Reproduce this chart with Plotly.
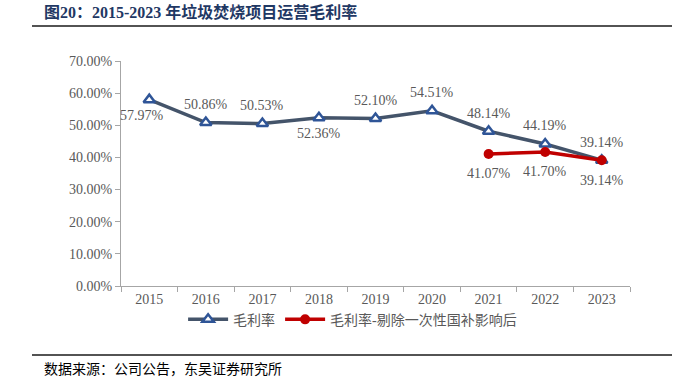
import plotly.graph_objects as go

years = ["2015", "2016", "2017", "2018", "2019", "2020", "2021", "2022", "2023"]
gross_margin = [57.97, 50.86, 50.53, 52.36, 52.10, 54.51, 48.14, 44.19, 39.14]
adj_years = ["2021", "2022", "2023"]
adj_margin = [41.07, 41.70, 39.14]
y_ticks = [0, 10, 20, 30, 40, 50, 60, 70]

series1_name = "毛利率"
series2_name = "毛利率-剔除一次性国补影响后"
title_text = "图20：2015-2023 年垃圾焚烧项目运营毛利率"
source_text = "数据来源：公司公告，东吴证券研究所"

# label placement: 1 above the point, -1 below
above1 = [-1, 1, 1, -1, 1, 1, 1, 1, 1]

serif = "Liberation Serif, Times New Roman, Noto Sans CJK SC"
gray = "#595959"

fig = go.Figure()
fig.add_trace(go.Scatter(
    x=years, y=[v / 100 for v in gross_margin], name=series1_name,
    mode="lines+markers",
    line=dict(color="#44546A", width=3.5),
    marker=dict(symbol="triangle-up", size=10, color="white",
                line=dict(color="#2F5597", width=2.5)),
    cliponaxis=False,
))
fig.add_trace(go.Scatter(
    x=adj_years, y=[v / 100 for v in adj_margin], name=series2_name,
    mode="lines+markers",
    line=dict(color="#C00000", width=3.5),
    marker=dict(symbol="circle", size=10, color="#C00000"),
    cliponaxis=False,
))

# on a category axis, annotation x is the category's serial index
for i, (yr, v) in enumerate(zip(years, gross_margin)):
    ys = 18 if above1[i] > 0 else -16
    xs = -7 if i == 0 else 0
    fig.add_annotation(x=years.index(yr), y=v / 100, text=f"{v:.2f}%", showarrow=False,
                       xshift=xs, yshift=ys, xanchor="center", yanchor="middle",
                       font=dict(family=serif, size=14, color=gray))
for yr, v in zip(adj_years, adj_margin):
    fig.add_annotation(x=years.index(yr), y=v / 100, text=f"{v:.2f}%", showarrow=False,
                       yshift=-20, xanchor="center", yanchor="middle",
                       font=dict(family=serif, size=14, color=gray))

fig.update_layout(
    width=693, height=388,
    margin=dict(l=121, r=63, t=61, b=102),
    paper_bgcolor="white", plot_bgcolor="white",
    showlegend=True,
    legend=dict(orientation="h", x=0.455, xanchor="center", y=-0.15, yanchor="middle",
                font=dict(family=serif, size=14, color=gray),
                itemwidth=40, tracegroupgap=0, bgcolor="rgba(0,0,0,0)"),
    xaxis=dict(
        type="category", categoryorder="array", categoryarray=years,
        showgrid=False, showline=True, linecolor="#A6A6A6", linewidth=1,
        ticks="outside", tickson="boundaries", ticklen=5, tickcolor="#A6A6A6",
        tickfont=dict(family=serif, size=14, color=gray),
        range=[-0.5, 8.5],
    ),
    yaxis=dict(
        range=[0, 0.7], tickvals=[v / 100 for v in y_ticks],
        ticktext=[f"{v:.2f}%" for v in y_ticks],
        showgrid=False, zeroline=False, showline=True, linecolor="#A6A6A6", linewidth=1,
        ticks="outside", ticklen=5, tickcolor="#A6A6A6",
        tickfont=dict(family=serif, size=14, color=gray),
    ),
    font=dict(family=serif),
)

fig.add_annotation(text="<b>" + title_text + "</b>", xref="paper", yref="paper",
                   x=(42 - 121) / 509, y=(286 - 12) / 225,
                   xanchor="left", yanchor="middle", showarrow=False,
                   font=dict(family="Liberation Serif, Noto Sans CJK SC", size=16, color="#1F3864"))
fig.add_annotation(text=source_text, xref="paper", yref="paper",
                   x=(42 - 121) / 509, y=(286 - 368) / 225,
                   xanchor="left", yanchor="middle", showarrow=False,
                   font=dict(family="Noto Sans CJK SC", size=14, color="#000000"))

# title rule and bottom rule
for yp in [26, 355]:
    fig.add_shape(type="line", xref="paper", yref="paper",
                  x0=(32 - 121) / 509, x1=(672 - 121) / 509,
                  y0=(286 - yp) / 225, y1=(286 - yp) / 225,
                  line=dict(color="#1a1a1a", width=1.5))

fig.write_html("out.html", config={"displayModeBar": False},
               post_script="document.body.style.margin='0';document.body.style.overflow='hidden';")
